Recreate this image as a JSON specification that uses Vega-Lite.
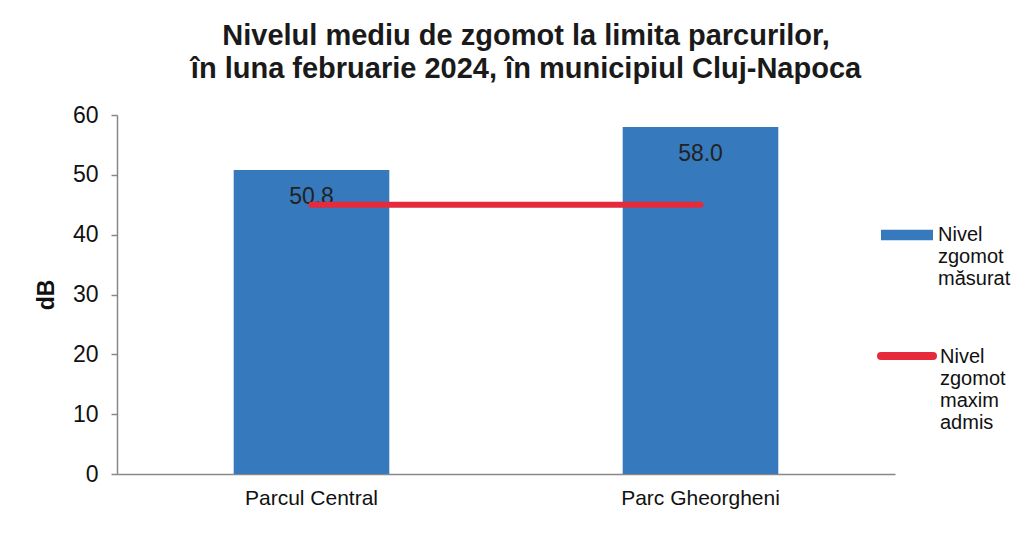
{
  "$schema": "https://vega.github.io/schema/vega-lite/v6.json",
  "width": 778,
  "height": 359,
  "autosize": {"type": "none"},
  "padding": {"left": 117, "top": 115, "right": 116, "bottom": 68},
  "background": "white",
  "config": {
    "font": "Liberation Sans",
    "view": {"stroke": null}
  },
  "title": {
    "text": ["Nivelul mediu de zgomot la limita parcurilor,", "în luna februarie 2024, în municipiul Cluj-Napoca"],
    "fontSize": 29,
    "font": "Liberation Sans",
    "fontWeight": "bold",
    "color": "#1a1a1a",
    "lineHeight": 33,
    "anchor": "middle",
    "dx": 20,
    "offset": 20
  },
  "data": {
    "values": [
      {"parc": "Parcul Central", "nivel": 50.8, "maxim": 45},
      {"parc": "Parc Gheorgheni", "nivel": 58.0, "maxim": 45}
    ]
  },
  "encoding": {
    "x": {
      "field": "parc",
      "type": "nominal",
      "sort": null,
      "scale": {"paddingInner": 0.6, "paddingOuter": 0.3},
      "axis": {
        "title": null,
        "labelFontSize": 21,
        "labelColor": "#111",
        "ticks": false,
        "labelPadding": 13,
        "labelAngle": 0,
        "domainColor": "#888",
        "domainWidth": 1.5
      }
    }
  },
  "layer": [
    {
      "mark": {"type": "bar"},
      "encoding": {
        "y": {
          "field": "nivel",
          "type": "quantitative",
          "scale": {"domain": [0, 60]},
          "axis": {
            "title": "dB",
            "titleFontSize": 23,
            "titleFontWeight": "bold",
            "titleColor": "#111",
            "titlePadding": 14,
            "labelFontSize": 23,
            "labelColor": "#111",
            "grid": false,
            "values": [0, 10, 20, 30, 40, 50, 60],
            "domainColor": "#888",
            "domainWidth": 1.5,
            "tickColor": "#888",
            "tickWidth": 1.5,
            "tickSize": 6,
            "labelPadding": 13
          }
        },
        "fill": {
          "datum": "Nivel zgomot măsurat",
          "type": "nominal",
          "scale": {"range": ["#3679BC"]},
          "legend": {
            "orient": "none",
            "legendX": 764,
            "legendY": 94,
            "title": null,
            "padding": 0,
            "symbolType": "M-1,-0.2H1V0.2H-1Z",
            "symbolSize": 2704,
            "symbolStrokeWidth": 0,
            "labelFontSize": 20,
            "labelLineHeight": 24,
            "labelBaseline": "top",
            "labelOffset": 5,
            "labelLimit": 300,
            "labelColor": "#111",
            "labelExpr": "split(datum.label, ' ')",
            "encode": {"labels": {"update": {"dy": {"value": -10}}}}
          }
        }
      }
    },
    {
      "mark": {"type": "text", "dy": 27, "fontSize": 23, "color": "#222", "baseline": "middle"},
      "encoding": {
        "y": {"field": "nivel", "type": "quantitative"},
        "text": {"field": "nivel", "type": "quantitative", "format": ".1f"}
      }
    },
    {
      "mark": {"type": "line", "strokeWidth": 6, "strokeCap": "round"},
      "encoding": {
        "y": {"field": "maxim", "type": "quantitative"},
        "stroke": {
          "datum": "Nivel zgomot maxim admis",
          "type": "nominal",
          "scale": {"range": ["#E52A3C"]},
          "legend": {
            "orient": "none",
            "legendX": 760,
            "legendY": 211,
            "title": null,
            "padding": 0,
            "symbolType": "stroke",
            "symbolSize": 2704,
            "symbolStrokeWidth": 8,
            "labelFontSize": 20,
            "labelLineHeight": 24,
            "labelBaseline": "top",
            "labelOffset": 3,
            "labelLimit": 300,
            "labelColor": "#111",
            "labelExpr": "split(datum.label, ' ')",
            "encode": {
              "symbols": {"update": {"strokeCap": {"value": "round"}}},
              "labels": {"update": {"dy": {"value": -9}}}
            }
          }
        }
      }
    }
  ]
}
